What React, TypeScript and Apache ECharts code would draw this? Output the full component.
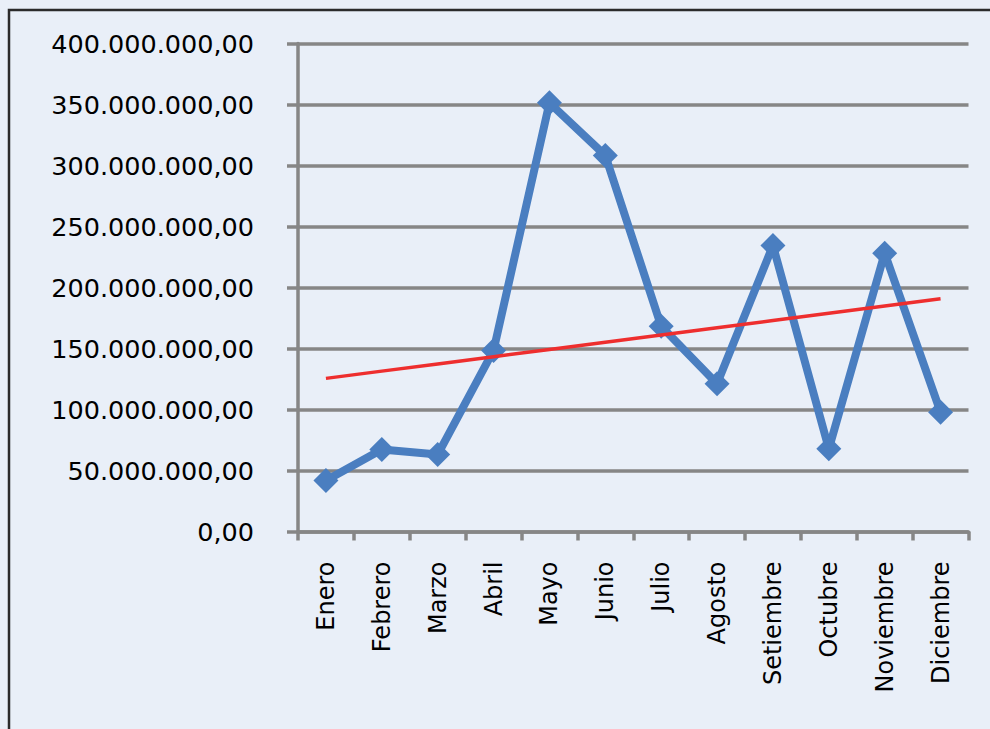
import React, { useEffect, useRef } from "react";
import * as echarts from "echarts";

const months = ["Enero", "Febrero", "Marzo", "Abril", "Mayo", "Junio", "Julio", "Agosto", "Setiembre", "Octubre", "Noviembre", "Diciembre"];
const values = [41.8e6, 67.2e6, 63.1e6, 148.4e6, 351.4e6, 308.2e6, 168.3e6, 121.1e6, 234.4e6, 67.8e6, 228.1e6, 97.8e6];
const yMin = 0;
const yMax = 400e6;
const yStep = 50e6;

function linearTrend(ys: number[]): number[] {
  const n = ys.length;
  const mx = (n - 1) / 2;
  const my = ys.reduce((a, b) => a + b, 0) / n;
  let sxy = 0, sxx = 0;
  ys.forEach((y, i) => { sxy += (i - mx) * (y - my); sxx += (i - mx) * (i - mx); });
  const slope = sxy / sxx;
  return ys.map((_, i) => my + slope * (i - mx));
}

function fmt(v: number): string {
  const s = Math.round(v).toString().replace(/\B(?=(\d{3})+(?!\d))/g, ".");
  return s + ",00";
}

export default function App() {
  const ref = useRef<HTMLDivElement>(null);
  useEffect(() => {
    if (!ref.current) return;
    const chart = echarts.init(ref.current, null, { renderer: "svg" });
    const trend = linearTrend(values);
    chart.setOption({
      animation: false,
      backgroundColor: "#E9EFF8",
      graphic: [
        {
          type: "rect",
          shape: { x: 9, y: 10, width: 1000, height: 800 },
          style: { fill: "none", stroke: "#2b2b2b", lineWidth: 2.5 },
          z: 100,
        },
      ],
      grid: { left: 298, right: 21.5, top: 43.5, bottom: 197.5, containLabel: false },
      xAxis: {
        type: "category",
        data: months,
        boundaryGap: true,
        axisLine: { show: true, lineStyle: { color: "#868686", width: 3.5 } },
        axisTick: { show: true, alignWithLabel: false, length: 9, lineStyle: { color: "#868686", width: 3.5 } },
        axisLabel: {
          rotate: 90,
          margin: 30,
          color: "#000",
          fontFamily: "DejaVu Sans",
          fontSize: 24,
          interval: 0,
        },
        splitLine: { show: false },
      },
      yAxis: {
        type: "value",
        min: yMin,
        max: yMax,
        interval: yStep,
        axisLine: { show: true, lineStyle: { color: "#868686", width: 3.5 } },
        axisTick: { show: true, length: 11, lineStyle: { color: "#868686", width: 3.5 } },
        axisLabel: {
          margin: 44,
          color: "#000",
          fontFamily: "DejaVu Sans",
          fontSize: 25.5,
          formatter: (v: number) => fmt(v),
        },
        splitLine: { show: true, lineStyle: { color: "#868686", width: 3.5 } },
      },
      series: [
        {
          type: "line",
          data: values,
          symbol: "diamond",
          symbolSize: 25,
          showSymbol: true,
          lineStyle: { color: "#4A7EC0", width: 8 },
          itemStyle: { color: "#4A7EC0" },
          z: 3,
        },
        {
          type: "line",
          data: trend,
          symbol: "none",
          lineStyle: { color: "#EE2E2E", width: 3.5 },
          z: 4,
        },
      ],
    });
    return () => chart.dispose();
  }, []);
  return <div ref={ref} style={{ position: "fixed", left: 0, top: 0, width: 990, height: 729 }} />;
}
